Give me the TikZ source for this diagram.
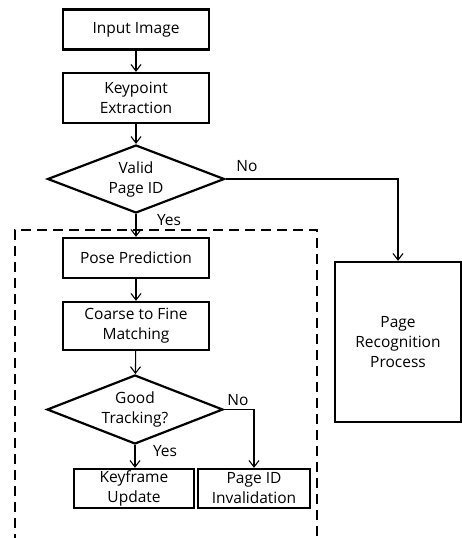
\documentclass[tikz,border=0pt]{standalone}
\usepackage{fontspec}
\setmainfont{Open Sans}
\usetikzlibrary{arrows.meta,shapes.geometric}
\begin{document}
\begin{tikzpicture}[x=1pt,y=-1pt,
  every node/.style={font=\fontsize{15.5}{20}\selectfont},
  box/.style={draw,line width=2.3pt,align=center,inner sep=0pt},
  dia/.style={draw,diamond,line width=2.2pt,align=center,inner sep=0pt,aspect=2.6},
  arr/.style={line width=1.1pt,-{Straight Barb[length=6.5pt,width=10pt,line width=1.1pt]}},
  lbl/.style={inner sep=0pt},
  frame/.style={line width=2pt,dash pattern=on 10pt off 6pt}]
\useasboundingbox (0,0) rectangle (462,538);
\clip (0,0) rectangle (462,538);
\fill[white] (0,0) rectangle (462,538);

\node[box,minimum width=146pt,minimum height=40pt] (in) at (136,29.5) {Input Image};
\node[box,minimum width=146pt,minimum height=50pt] (kp) at (136,98) {Keypoint\\Extraction};
\node[dia,minimum width=177pt,minimum height=68pt] (valid) at (136,179) {Valid\\Page ID};
\node[box,minimum width=146pt,minimum height=40pt] (pose) at (136,258) {Pose Prediction};
\node[box,minimum width=146pt,minimum height=48pt] (coarse) at (136,326) {Coarse to Fine\\Matching};
\node[dia,minimum width=176pt,minimum height=69pt] (good) at (135,409.5) {Good\\Tracking?};
\node[box,minimum width=120pt,minimum height=39pt] (kf) at (134,488.5) {Keyframe\\Update};
\node[box,minimum width=112pt,minimum height=39pt] (piv) at (254,488.5) {Page ID\\Invalidation};
\node[box,minimum width=126pt,minimum height=160pt] (pr) at (398,342) {Page\\Recognition\\Process};

\draw[frame] (15,560) -- (15,230) -- (317,230) -- (317,560);

\draw[arr] (in) -- (kp);
\draw[arr] (kp) -- (valid);
\draw[arr] (valid.south) -- (pose.north);
\draw[arr] (valid.east) -| (pr.north);
\draw[arr] (pose) -- (coarse);
\draw[arr] (coarse) -- (good);
\draw[arr] (good.south) -- (good.south |- kf.north);
\draw[arr] (good.east) -| (piv.north);

\node[lbl] (no1) at (247,166) {No};
\node[lbl] (yes1) at (169,220) {Yes};
\node[lbl] (no2) at (238,400) {No};
\node[lbl] (yes2) at (165,451) {Yes};
\end{tikzpicture}
\end{document}
